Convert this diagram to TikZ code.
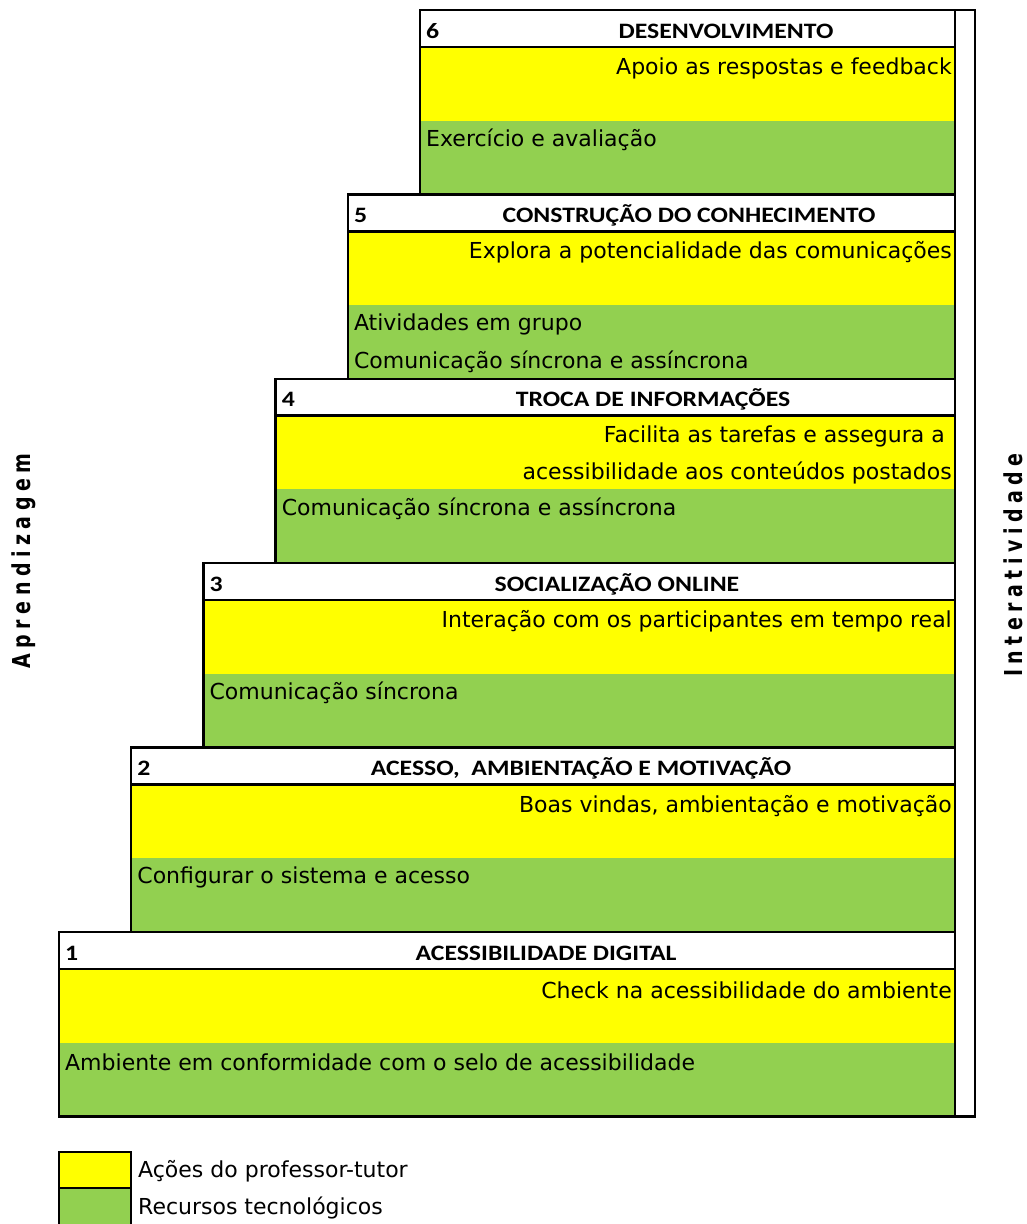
\documentclass[tikz,border=0pt]{standalone}
\usepackage{fontspec}
\setmainfont{DejaVu Sans}
\newfontfamily\hdfont{Carlito}
\newfontfamily\vfont{DejaVu Sans}[LetterSpace=29]
\definecolor{xyellow}{HTML}{FFFF00}
\definecolor{xgreen}{HTML}{92D050}
\newcommand\Stage[2]{%
  \fill[xyellow] (#1,#2+36.9) rectangle (955,#2+110.6);
  \fill[xgreen] (#1,#2+110.6) rectangle (955,#2+184.4);
  \fill[white] (#1,#2) rectangle (955,#2+36.9);
  \draw[box] (#1,#2) rectangle (955,#2+184.4);
  \draw[box] (#1,#2+36.9) -- (955,#2+36.9);
}
\newcommand\hd[1]{\scalebox{1.17}[1]{#1}}
\newcommand\vt[1]{\scalebox{1}[1.3]{#1}}
\begin{document}
\begin{tikzpicture}[x=1pt,y=-1pt,
  body/.style={font=\fontsize{22}{22}\selectfont, inner sep=0pt},
  head/.style={font=\hdfont\bfseries\fontsize{22}{22}\selectfont, inner sep=0pt},
  num/.style={font=\hdfont\bfseries\fontsize{22}{22}\selectfont, inner sep=0pt, anchor=west},
  vlab/.style={font=\vfont\bfseries\fontsize{19}{19}\selectfont, inner sep=0pt, rotate=90},
  box/.style={draw=black, line width=2.5pt}]
\useasboundingbox (0,0) rectangle (1027,1224);
% stages
\Stage{420}{10}
\Stage{347.8}{194.4}
\Stage{275.6}{378.8}
\Stage{203.4}{563.2}
\Stage{131.2}{747.6}
\Stage{59}{932}
% right bar
\draw[box, fill=white] (955,10) rectangle (975,1116.4);
% stage 6
\node[num] (n6) at (426,31) {\hd{6}};
\node[head] (h6) at (726,31) {\hd{DESENVOLVIMENTO}};
\node[body, anchor=east] (y6) at (952,68) {Apoio as respostas e feedback};
\node[body, anchor=west] (g6) at (426,140) {Exercício e avaliação};
% stage 5
\node[num] (n5) at (353.8,215.4) {\hd{5}};
\node[head] (h5) at (689,215.4) {\hd{CONSTRUÇÃO DO CONHECIMENTO}};
\node[body, anchor=east] (y5) at (952,252.4) {Explora a potencialidade das comunicações};
\node[body, anchor=west] (g5a) at (353.8,324.4) {Atividades em grupo};
\node[body, anchor=west] (g5b) at (353.8,361.4) {Comunicação síncrona e assíncrona};
% stage 4
\node[num] (n4) at (281.6,399.8) {\hd{4}};
\node[head] (h4) at (653,399.8) {\hd{TROCA DE INFORMAÇÕES}};
\node[body, anchor=east] (y4a) at (945,436.8) {Facilita as tarefas e assegura a};
\node[body, anchor=east] (y4b) at (952,472.8) {acessibilidade aos conteúdos postados};
\node[body, anchor=west] (g4) at (281.6,508.8) {Comunicação síncrona e assíncrona};
% stage 3
\node[num] (n3) at (209.4,584.2) {\hd{3}};
\node[head] (h3) at (617,584.2) {\hd{SOCIALIZAÇÃO ONLINE}};
\node[body, anchor=east] (y3) at (952,621.2) {Interação com os participantes em tempo real};
\node[body, anchor=west] (g3) at (209.4,693.2) {Comunicação síncrona};
% stage 2
\node[num] (n2) at (137.2,768.6) {\hd{2}};
\node[head] (h2) at (581,768.6) {\hd{ACESSO,\ \ AMBIENTAÇÃO E MOTIVAÇÃO}};
\node[body, anchor=east] (y2) at (952,805.6) {Boas vindas, ambientação e motivação};
\node[body, anchor=west] (g2) at (137.2,877.6) {Configurar o sistema e acesso};
% stage 1
\node[num] (n1) at (65,953) {\hd{1}};
\node[head] (h1) at (546,953) {\hd{ACESSIBILIDADE DIGITAL}};
\node[body, anchor=east] (y1) at (952,990) {Check na acessibilidade do ambiente};
\node[body, anchor=west] (g1) at (65,1062) {Ambiente em conformidade com o selo de acessibilidade};
% side labels
\node[vlab] (apr) at (24,561) {\vt{Aprendizagem}};
\node[vlab] (inter) at (1013,565) {\vt{Interatividade}};
% legend
\draw[black, line width=2pt, fill=xyellow] (59,1152) rectangle (131,1188);
\draw[black, line width=2pt, fill=xgreen] (59,1188) rectangle (131,1230);
\node[body, anchor=west] (ly) at (138,1171) {Ações do professor-tutor};
\node[body, anchor=west] (lg) at (138,1208) {Recursos tecnológicos};
\end{tikzpicture}
\end{document}
